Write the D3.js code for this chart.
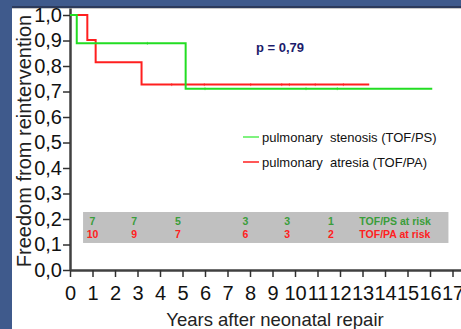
<!DOCTYPE html>
<html>
<head>
<meta charset="utf-8">
<script src="https://cdn.jsdelivr.net/npm/d3@7"></script>
<style>
  html, body { margin: 0; padding: 0; background: #3f5a8c; }
  svg { display: block; }
  text { font-family: Arial, "Liberation Sans", sans-serif; }
</style>
</head>
<body>
<div id="chart"></div>
<script>
// tick labels
const xTicks = d3.range(0, 18);
const yTicks = [0, 0.1, 0.2, 0.3, 0.4, 0.5, 0.6, 0.7, 0.8, 0.9, 1.0];

// Kaplan-Meier steps (years, freedom from reintervention)
const psTimes = [0, 0.3, 5.14, 16.1];
const psSurv = [1.0, 0.889, 0.711, 0.711];
const paTimes = [0, 0.77, 1.14, 3.18, 13.3];
const paSurv = [1.0, 0.902, 0.815, 0.727, 0.727];

// censored observations
const psCensor = [3.44, 6.0, 10.49, 11.88];
const paCensor = [4.52, 5.97, 8.03, 9.41, 9.75, 10.9, 12.15];

// numbers at risk
const atRiskYears = [1, 2.85, 4.8, 7.8, 9.65, 11.6];
const psAtRisk = [7, 7, 5, 3, 3, 1];
const paAtRisk = [10, 9, 7, 6, 3, 2];

const W = 461, H = 329;
const green = "#22dd22", red = "#ff1f1f";

let svg = d3.select("#chart").append("svg")
  .attr("width", W).attr("height", H);

// white slide area
svg.append("rect").attr("x", 12).attr("y", 8).attr("width", W - 12).attr("height", H - 8).attr("fill", "#fff");
svg.append("line").attr("x1", 12).attr("x2", W).attr("y1", 7).attr("y2", 7).attr("stroke", "#1a1a2a").attr("stroke-width", 1);
svg.append("line").attr("x1", 12).attr("x2", W).attr("y1", 8.5).attr("y2", 8.5).attr("stroke", "#c8c8c8").attr("stroke-width", 1);

let x = d3.scaleLinear().domain([0, 17.4]).range([70, 461.5]);
let y = d3.scaleLinear().domain([0, 1.0275]).range([270, 8]);

// grey at-risk box
svg.append("rect")
  .attr("x", x(0.58)).attr("y", y(0.2275))
  .attr("width", x(16.82) - x(0.58)).attr("height", y(0.106) - y(0.2275))
  .attr("fill", "#c0c0c0");

const comma = d => d3.format(".1f")(d).replace(".", ",");

// axes
let gx = svg.append("g").attr("transform", "translate(0,270)")
  .call(d3.axisBottom(x).tickValues(xTicks).tickSize(7).tickSizeOuter(0).tickPadding(9).tickFormat(d3.format("d")));
let gy = svg.append("g").attr("transform", "translate(70,0)")
  .call(d3.axisLeft(y).tickValues(yTicks).tickSize(7).tickSizeOuter(0).tickPadding(1).tickFormat(comma));

[gx, gy].forEach(g => {
  g.select(".domain").attr("stroke", "#404040").attr("stroke-width", 2.5);
  g.selectAll(".tick line").attr("stroke", "#303030").attr("stroke-width", 1.5);
  g.selectAll(".tick text").attr("fill", "#111").style("font-size", "20px").attr("font-family", "Arial, 'Liberation Sans', sans-serif");
});

// axis titles
svg.append("text")
  .attr("transform", "translate(31,141) rotate(-90)")
  .attr("text-anchor", "middle")
  .attr("fill", "#222")
  .style("font-size", "20px")
  .text("Freedom from reintervention");

svg.append("text")
  .attr("x", 275).attr("y", 326)
  .attr("text-anchor", "middle")
  .attr("fill", "#222")
  .style("font-size", "18.5px")
  .text("Years after neonatal repair");

// curves
let line = d3.line().curve(d3.curveStepAfter).x(d => x(d[0])).y(d => y(d[1]));

function survAt(times, surv, t) {
  let s = surv[0];
  for (let i = 0; i < times.length; i++) if (times[i] <= t) s = surv[i];
  return s;
}

function drawCurve(times, surv, censor, color) {
  svg.append("path")
    .datum(times.map((t, i) => [t, surv[i]]))
    .attr("d", line)
    .attr("fill", "none")
    .attr("stroke", color)
    .attr("stroke-width", 2);
  svg.selectAll(null)
    .data(censor)
    .enter().append("line")
    .attr("x1", d => x(d)).attr("x2", d => x(d))
    .attr("y1", d => y(survAt(times, surv, d)) - 1.5)
    .attr("y2", d => y(survAt(times, surv, d)) + 1.5)
    .attr("stroke", color)
    .attr("stroke-opacity", 0.6)
    .attr("stroke-width", 1);
}

drawCurve(paTimes, paSurv, paCensor, red);
drawCurve(psTimes, psSurv, psCensor, green);

// p value
svg.append("text")
  .attr("x", 256).attr("y", 51.5)
  .attr("fill", "#1c1c6b")
  .style("font-size", "13px").style("font-weight", "bold")
  .text("p = 0,79");

// legend
const legend = [
  { label: "pulmonary  stenosis (TOF/PS)", color: "#55ee55", y: 137 },
  { label: "pulmonary  atresia (TOF/PA)", color: red, y: 162 }
];
legend.forEach(l => {
  svg.append("line").attr("x1", 243).attr("x2", 259).attr("y1", l.y).attr("y2", l.y)
    .attr("stroke", l.color).attr("stroke-width", 1.5);
  svg.append("text").attr("x", 262).attr("y", l.y + 4.5)
    .attr("fill", "#111").style("font-size", "13px").style("white-space", "pre")
    .attr("xml:space", "preserve")
    .text(l.label);
});

// numbers at risk
function riskRow(vals, color, yb, label) {
  svg.selectAll(null)
    .data(vals)
    .enter().append("text")
    .attr("x", (d, i) => x(atRiskYears[i]))
    .attr("y", yb)
    .attr("text-anchor", "middle")
    .attr("fill", color)
    .style("font-size", "10.5px").style("font-weight", "bold")
    .text(d => d);
  svg.append("text")
    .attr("x", x(12.86)).attr("y", yb)
    .attr("fill", color)
    .style("font-size", "10.5px").style("font-weight", "bold")
    .text(label);
}
riskRow(psAtRisk, "#3a9d3a", 224.5, "TOF/PS at risk");
riskRow(paAtRisk, "#ff2020", 238, "TOF/PA at risk");
</script>
</body>
</html>
